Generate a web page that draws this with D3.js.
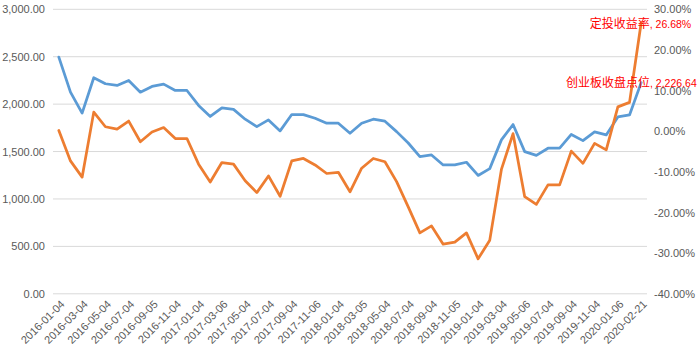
<!DOCTYPE html>
<html>
<head>
<meta charset="utf-8">
<script src="https://cdn.jsdelivr.net/npm/d3@7"></script>
<style>
  html, body { margin: 0; padding: 0; background: #fff; }
  svg { display: block; }
  text { font-family: "Liberation Sans", Arial, sans-serif; }
</style>
</head>
<body>
<svg id="chart" width="700" height="358"></svg>
<script>
const dates = [
  "2016-01-04","2016-02-01","2016-03-04","2016-04-01","2016-05-04","2016-06-01","2016-07-04","2016-08-01",
  "2016-09-05","2016-10-10","2016-11-04","2016-12-01","2017-01-04","2017-02-03","2017-03-06","2017-04-05",
  "2017-05-04","2017-06-01","2017-07-04","2017-08-01","2017-09-04","2017-10-09","2017-11-06","2017-12-01",
  "2018-01-04","2018-02-01","2018-03-05","2018-04-02","2018-05-04","2018-06-01","2018-07-04","2018-08-01",
  "2018-09-04","2018-10-08","2018-11-05","2018-12-03","2019-01-04","2019-02-01","2019-03-04","2019-04-01",
  "2019-05-06","2019-06-03","2019-07-04","2019-08-01","2019-09-04","2019-10-08","2019-11-04","2019-12-02",
  "2020-01-06","2020-02-03","2020-02-21"
];
const indexClose = [
  2496, 2126, 1905, 2278, 2215, 2197, 2250, 2126, 2187, 2211, 2144, 2144,
  1986, 1870, 1961, 1945, 1841, 1763, 1834, 1718, 1890, 1890, 1851, 1799,
  1799, 1693, 1799, 1841, 1820, 1710, 1590, 1446, 1464, 1359, 1359, 1387,
  1248, 1320, 1623, 1785, 1499, 1460, 1535, 1535, 1680, 1615, 1707, 1675,
  1865, 1886, 2226.64
];
const returnPct = [
  0.2, -7.3, -11.3, 4.7, 1.1, 0.5, 2.5, -2.6, -0.2, 0.9, -1.8, -1.8,
  -8.1, -12.5, -7.7, -8.1, -12.2, -15.1, -11.0, -16.0, -7.3, -6.7, -8.3, -10.4,
  -10.1, -14.9, -9.1, -6.7, -7.5, -12.4, -18.6, -25.0, -23.3, -27.8, -27.3, -25.0,
  -31.4, -26.8, -9.4, -0.6, -16.1, -18.0, -13.2, -13.2, -4.9, -7.9, -3.0, -4.6,
  6.0, 7.1, 26.68
];
const leftTicks = [0, 500, 1000, 1500, 2000, 2500, 3000];
const rightTicks = [-40, -30, -20, -10, 0, 10, 20, 30];
const seriesNames = ["创业板收盘点位", "定投收益率"];

const svg = d3.select("#chart");
const plot = { left: 53, right: 647, top: 9.3, bottom: 293.8 };

const x = d3.scalePoint().domain(dates).range([plot.left, plot.right]).padding(0.5);
const yL = d3.scaleLinear().domain([0, 3000]).range([plot.bottom, plot.top]);
const yR = d3.scaleLinear().domain([-40, 30]).range([plot.bottom, plot.top]);

// gridlines
svg.append("g").selectAll("line").data(leftTicks).join("line")
  .attr("x1", plot.left).attr("x2", plot.right)
  .attr("y1", d => yL(d)).attr("y2", d => yL(d))
  .attr("stroke", "#D9D9D9").attr("stroke-width", 1);

// left axis
const fmtL = d3.format(",.2f");
const axL = svg.append("g").attr("transform", `translate(${plot.left - 8},0)`)
  .call(d3.axisLeft(yL).tickValues(leftTicks).tickFormat(fmtL).tickSize(0).tickPadding(0));
axL.select(".domain").remove();
axL.selectAll("text").attr("fill", "#595959").style("font-size", "11px").attr("font-family", "Liberation Sans, Arial, sans-serif");

// right axis
const axR = svg.append("g").attr("transform", `translate(${654},0)`)
  .call(d3.axisRight(yR).tickValues(rightTicks).tickFormat(d => d.toFixed(2) + "%").tickSize(0).tickPadding(0));
axR.select(".domain").remove();
axR.selectAll("text").attr("fill", "#595959").style("font-size", "11px").attr("font-family", "Liberation Sans, Arial, sans-serif");

// x axis labels
const shown = dates.filter((d, i) => i % 2 === 0 || i === dates.length - 1);
const axX = svg.append("g").attr("transform", `translate(0,${plot.bottom})`)
  .call(d3.axisBottom(x).tickValues(shown).tickSize(0).tickPadding(0));
axX.select(".domain").remove();
axX.selectAll("text")
  .attr("fill", "#595959").style("font-size", "11px").attr("font-family", "Liberation Sans, Arial, sans-serif")
  .attr("text-anchor", "end")
  .attr("dy", null).attr("y", null)
  .attr("transform", "translate(6,11) rotate(-45)");

// lines
const lineL = d3.line().x((d, i) => x(dates[i])).y(d => yL(d));
const lineR = d3.line().x((d, i) => x(dates[i])).y(d => yR(d));
svg.append("path").datum(indexClose).attr("d", lineL)
  .attr("fill", "none").attr("stroke", "#5B9BD5").attr("stroke-width", 2.75)
  .attr("stroke-linejoin", "round").attr("stroke-linecap", "round");
svg.append("path").datum(returnPct).attr("d", lineR)
  .attr("fill", "none").attr("stroke", "#ED7D31").attr("stroke-width", 2.75)
  .attr("stroke-linejoin", "round").attr("stroke-linecap", "round");

// data labels on last points
const last = dates.length - 1;
function dataLabel(xp, yp, anchor, name, val) {
  const t = svg.append("text")
    .attr("x", xp).attr("y", yp).attr("text-anchor", anchor).attr("fill", "#FF0000");
  t.append("tspan").style("font-size", "12px")
    .attr("font-family", "'Noto Sans CJK SC', sans-serif").text(name);
  t.append("tspan").style("font-size", "10.5px")
    .attr("font-family", "Liberation Sans, Arial, sans-serif").text(`, ${val}`);
}
dataLabel(x(dates[last]) + 50, yR(returnPct[last]) + 5, "end", seriesNames[1], returnPct[last].toFixed(2) + "%");
dataLabel(566, yL(indexClose[last]) + 4, "start", seriesNames[0], fmtL(indexClose[last]));
</script>
</body>
</html>
